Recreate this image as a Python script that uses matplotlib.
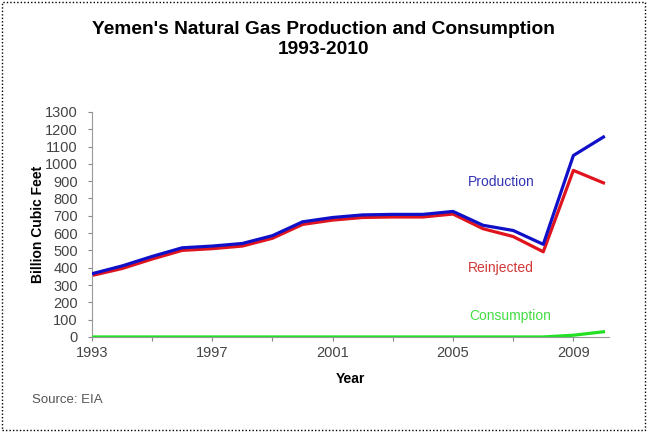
import matplotlib.pyplot as plt
from matplotlib.patches import Rectangle

years = list(range(1993, 2011))
production = [365, 410, 465, 515, 525, 540, 585, 665, 690, 705, 708, 708, 725, 645, 615, 535, 1048, 1155]
reinjected = [355, 395, 450, 500, 510, 525, 570, 650, 675, 690, 693, 693, 710, 625, 580, 492, 962, 890]
consumption = [0, 0, 0, 0, 0, 0, 0, 0, 0, 0, 0, 0, 0, 0, 0, 0, 10, 30]

plt.rcParams['font.family'] = ['Liberation Sans', 'DejaVu Sans']

fig = plt.figure(figsize=(6.47, 4.32), dpi=100)
ax = fig.add_axes([0.142, 0.22, 0.80, 0.521])

ax.plot(years, production, color="#1010c8", lw=2.3, zorder=3)
ax.plot(years, reinjected, color="#e0141e", lw=2.3, zorder=2)
ax.plot(years, consumption, color="#22e022", lw=2.3, zorder=4)

ax.text(2006.6, 895, "Production", color="#3434b4", fontsize=10, ha="center", va="center")
ax.text(2006.6, 399, "Reinjected", color="#d03838", fontsize=10, ha="center", va="center")
ax.text(2006.9, 121, "Consumption", color="#44dd44", fontsize=10, ha="center", va="center")

ax.set_xlim(1993, 2010.2)
ax.set_ylim(0, 1300)
ax.set_yticks(range(0, 1301, 100))
ax.set_xticks(range(1993, 2011, 2))
ax.set_xticklabels([str(y) if (y - 1993) % 4 == 0 else "" for y in range(1993, 2011, 2)])
ax.tick_params(colors="#888888", labelcolor="#444444", labelsize=10.5, length=3, width=0.8)
ax.tick_params(axis="y", pad=7)
for s in ["top", "right"]:
    ax.spines[s].set_visible(False)
for s in ["left", "bottom"]:
    ax.spines[s].set_color("#999999")

ax.set_ylabel("Billion Cubic Feet", fontsize=10, fontweight="bold", labelpad=0)
ax.set_xlabel("Year", fontsize=10, fontweight="bold", labelpad=9)

fig.text(0.5, 1 - 30 / 432, "Yemen's Natural Gas Production and Consumption",
         ha="center", va="center", fontsize=13.8, fontweight="bold")
fig.text(0.5, 1 - 49 / 432, "1993-2010",
         ha="center", va="center", fontsize=13.8, fontweight="bold")
fig.text(0.05, 0.075, "Source: EIA", fontsize=9.5, color="#555555", va="center")

fig.patches.append(Rectangle((0.003, 0.004), 0.994, 0.992, transform=fig.transFigure,
                             fill=False, ls=(0, (1, 1.5)), lw=1, color="black"))

fig.savefig("out.png", dpi=100)
